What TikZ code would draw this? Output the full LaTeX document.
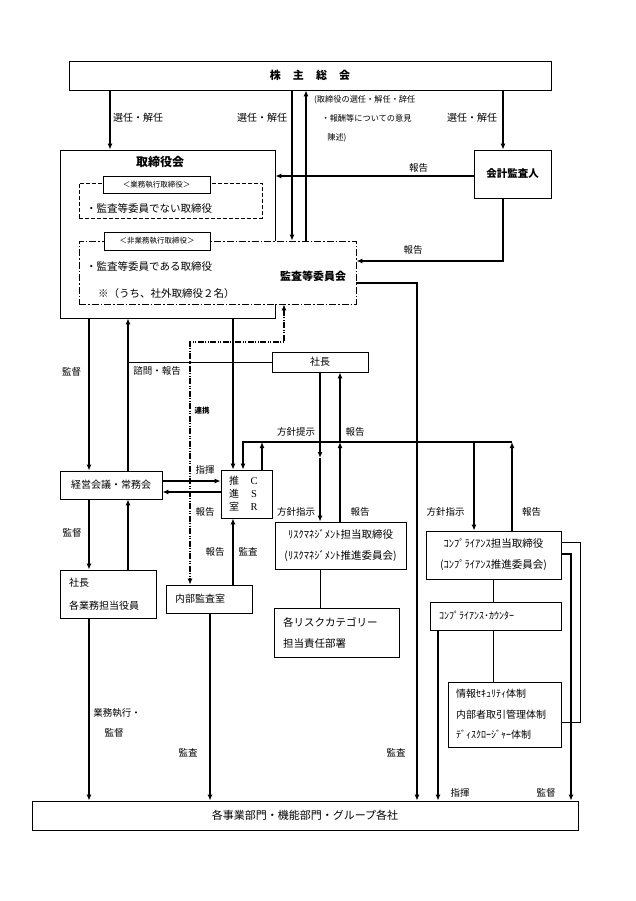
\documentclass[tikz,border=0pt]{standalone}
\usepackage{fontspec}
\setmainfont{Noto Sans CJK JP}
\newfontfamily\lserif{Liberation Serif}
\usetikzlibrary{arrows.meta}
\newcommand\fsz[1]{\fontsize{#1}{#1}\selectfont}
\begin{document}
\begin{tikzpicture}[x=1pt,y=-1pt,
  box/.style={draw,line width=0.8pt,inner sep=0pt,align=center,font=\fsz{10.5}},
  arr/.style={line width=1.4pt,-{Latex[length=6pt,width=5pt]}},
  ln/.style={line width=0.9pt},
  lab/.style={font=\fsz{9.5},inner sep=0pt},
  dashbox/.style={dash pattern=on 4pt off 2pt},
  dashdotbox/.style={dash pattern=on 7pt off 2pt on 1.5pt off 2pt},
  ddotline/.style={line width=1.1pt,dash pattern=on 6pt off 1.5pt on 1pt off 1.5pt on 1pt off 1.5pt},
]
\useasboundingbox (0,0) rectangle (636,901);
% column / row helpers
\foreach \c in {89,110,128,190,210,233,243,262,284,292,306,320,340,417,438,474,493,503,512,571,580}
  {\coordinate (c\c) at (\c,0);}
\foreach \r in {176,261,283,342,442,458,481,492,542,554,722}
  {\coordinate (r\r) at (0,\r);}

% ---------- boxes ----------
\node[box,minimum width=482pt,minimum height=29pt,font=\fsz{11}\bfseries] (sh) at (310,75.5)
  {株\hspace{1.1em}主\hspace{1.1em}総\hspace{1.1em}会};
\node[box,minimum width=215pt,minimum height=168pt] (bod) at (167.5,234) {};
\node[font=\fsz{12}\bfseries,inner sep=0pt] (bodt) at (160,162) {取締役会};
\node[box,dashbox,minimum width=183pt,minimum height=35pt] (ex) at (170.5,200.5) {};
\node[box,fill=white,minimum width=107pt,minimum height=17pt,font=\fsz{7.5}] (exl) at (156.5,184.5) {＜業務執行取締役＞};
\node[anchor=west,font=\fsz{10.5},inner sep=0pt] (ext) at (86,208) {・監査等委員でない取締役};
\node[box,dashdotbox,fill=white,minimum width=277pt,minimum height=63pt] (ac) at (217.5,272.5) {};
\node[box,fill=white,minimum width=106pt,minimum height=18pt,font=\fsz{7.5}] (acl) at (157,241) {＜非業務執行取締役＞};
\node[anchor=west,font=\fsz{10.5},inner sep=0pt] (act1) at (86,266) {・監査等委員である取締役};
\node[anchor=west,font=\fsz{10.5},inner sep=0pt] (act2) at (98,294) {※（うち、社外取締役２名）};
\node[font=\fsz{11}\bfseries,inner sep=0pt] (actt) at (313,276) {監査等委員会};
\draw[line width=0.8pt] (bod.north east) -- (bod.north east |- ac.north);
\draw[line width=0.8pt] (bod.south east |- ac.south) -- (bod.south east);

\node[box,minimum width=77pt,minimum height=48pt,font=\fsz{10.5}\bfseries] (au) at (512.5,174) {会計監査人};
\node[box,minimum width=96pt,minimum height=20pt,font=\fsz{10}] (sc) at (320,362) {社長};
\node[box,minimum width=102pt,minimum height=28pt,font=\fsz{10}] (km) at (111,485) {経営会議・常務会};
\node[box,minimum width=51pt,minimum height=48pt] (csr) at (246.5,494) {};
\node[inner sep=0pt,align=center,font=\fontsize{10}{13}\selectfont] (csra) at (234,494) {推\\進\\室};
\node[inner sep=0pt,align=center,font=\lserif\fontsize{10.5}{13}\selectfont] (csrb) at (254,494) {C\\S\\R};
\node[box,minimum width=96pt,minimum height=48pt,align=left,text width=78pt,inner xsep=9pt,
  font=\fontsize{10}{23}\selectfont] (yk) at (108,594) {社長\\各業務担当役員};
\node[box,minimum width=86pt,minimum height=28pt,align=left,text width=68pt,inner xsep=9pt,
  font=\fsz{10}] (ia) at (209,599) {内部監査室};
\node[box,minimum width=131pt,minimum height=47pt,font=\fontsize{10.5}{21}\selectfont] (rk) at (340.5,545.5)
  {ﾘｽｸﾏﾈｼﾞﾒﾝﾄ担当取締役\\(ﾘｽｸﾏﾈｼﾞﾒﾝﾄ推進委員会)};
\node[box,minimum width=125pt,minimum height=49pt,align=left,text width=107pt,inner xsep=9pt,
  font=\fontsize{10.5}{21}\selectfont] (ct) at (336.5,632.5) {各リスクカテゴリー\\担当責任部署};
\node[box,minimum width=135pt,minimum height=48pt,font=\fontsize{10.5}{21}\selectfont] (cp) at (493.5,555)
  {ｺﾝﾌﾟﾗｲｱﾝｽ担当取締役\\(ｺﾝﾌﾟﾗｲｱﾝｽ推進委員会)};
\node[box,minimum width=131pt,minimum height=28pt,align=left,text width=113pt,inner xsep=9pt,
  font=\fsz{10}] (cn) at (495.5,616) {ｺﾝﾌﾟﾗｲｱﾝｽ･ｶｳﾝﾀｰ};
\node[box,minimum width=113pt,minimum height=65pt,align=left,text width=97pt,inner xsep=8pt,
  font=\fontsize{10}{20.5}\selectfont] (inf) at (504.5,714.5) {情報ｾｷｭﾘﾃｨ体制\\内部者取引管理体制\\ﾃﾞｨｽｸﾛｰｼﾞｬｰ体制};
\node[box,minimum width=546pt,minimum height=29pt,font=\fsz{11}] (bt) at (305,815.5) {各事業部門・機能部門・グループ各社};

% ---------- connectors ----------
\draw[arr] (sh.south -| c110) -- (bod.north -| c110);
\draw[arr] (sh.south -| c292) -- (ac.north -| c292);
\draw[arr] (ac.north -| c306) -- (sh.south -| c306);
\draw[arr] (sh.south -| c503) -- (au.north -| c503);
\draw[arr] (au.west |- r176) -- (bod.east |- r176);
\draw[arr] (au.south -| c503) |- (ac.east |- r261);
\draw[arr] (ac.east |- r283) -| (bt.north -| c417);
\draw[arr] (bod.south -| c89) -- (km.north -| c89);
\draw[arr] (km.north -| c128) -- (bod.south -| c128);
\draw[ln] (sc.west) -- (sc.west -| c128);
\draw[arr] (bod.south -| c233) -- (csr.north -| c233);
\draw[ddotline,{Latex[length=6pt,width=5pt]}-{Latex[length=6pt,width=5pt]}]
  (ac.south -| c284) |- (c190 |- r342) -- (ia.north -| c190);
\draw[arr] (sc.south -| c320) -- (c320 |- r458);
\draw[arr] (c320 |- r458) -- (rk.north -| c320);
\draw[arr] (rk.north -| c340) -- (c340 |- r442);
\draw[arr] (c340 |- r442) -- (sc.south -| c340);
\draw[arr] (cp.north -| c512) -- (c512 |- r442);
\draw[arr] (c512 |- r442) -| (csr.north -| c243);
\draw[arr] (csr.north -| c262) -- (c262 |- r442);
\draw[arr] (c474 |- r442) -- (cp.north -| c474);
\draw[arr] (km.east |- r481) -- (csr.west |- r481);
\draw[arr] (csr.west |- r492) -- (km.east |- r492);
\draw[arr] (km.south -| c89) -- (yk.north -| c89);
\draw[arr] (yk.north -| c128) -- (km.south -| c128);
\draw[arr] (ia.north -| c233) -- (csr.south -| c233);
\draw[arr] (yk.south -| c89) -- (bt.north -| c89);
\draw[arr] (ia.south -| c210) -- (bt.north -| c210);
\draw[ln] (rk.south -| c320) -- (ct.north -| c320);
\draw[ln] (cp.south -| c493) -- (cn.north -| c493);
\draw[ln] (cn.south -| c493) -- (inf.north -| c493);
\draw[arr] (cn.south -| c438) -- (bt.north -| c438);
\draw[ln] (cp.east |- r542) -| (c580 |- r722) -- (inf.east |- r722);
\draw[arr] (cp.east |- r554) -| (bt.north -| c571);

% ---------- labels ----------
\node[lab,font=\fsz{10}] (l1) at (138,118) {選任・解任};
\node[lab,font=\fsz{10}] (l2) at (262,118) {選任・解任};
\node[lab,font=\fsz{10}] (l3) at (472,118) {選任・解任};
\node[lab,anchor=north west,align=left,font=\fontsize{8.2}{19}\selectfont] (l4) at (314,95)
  {(取締役の選任・解任・辞任\\\hspace{0.9em}・報酬等についての意見\\\hspace{1.6em}陳述)};
\node[lab] (l5) at (418.5,168) {報告};
\node[lab] (l6) at (413,250) {報告};
\node[lab] (l7) at (71.5,372) {監督};
\node[lab] (l8) at (157,371) {諮問・報告};
\node[lab,font=\fsz{7.5}\bfseries] (l9) at (202,411) {連携};
\node[lab] (l10) at (296,432) {方針提示};
\node[lab] (l11) at (355,432) {報告};
\node[lab] (l12) at (205,470) {指揮};
\node[lab] (l13) at (205,512) {報告};
\node[lab] (l14) at (72,533) {監督};
\node[lab] (l15) at (215,552) {報告};
\node[lab] (l16) at (248,552) {監査};
\node[lab] (l17) at (296,512) {方針指示};
\node[lab] (l18) at (360,512) {報告};
\node[lab] (l19) at (445.5,512) {方針指示};
\node[lab] (l20) at (531.5,512) {報告};
\node[lab] (l21) at (117,713) {業務執行・};
\node[lab] (l22) at (114,733) {監督};
\node[lab] (l23) at (188,753) {監査};
\node[lab] (l24) at (396,753) {監査};
\node[lab] (l25) at (460,793) {指揮};
\node[lab] (l26) at (546,793) {監督};
\end{tikzpicture}
\end{document}
